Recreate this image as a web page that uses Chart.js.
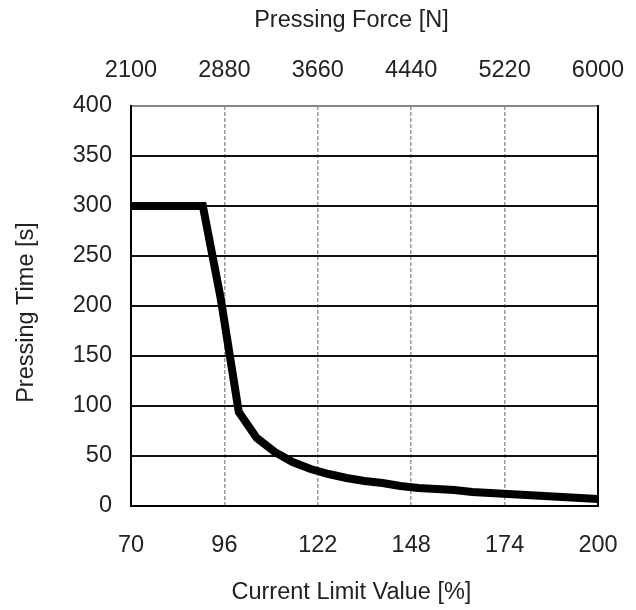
<!DOCTYPE html>
<html>
<head>
<meta charset="utf-8">
<script src="https://cdn.jsdelivr.net/npm/chart.js@4"></script>
<style>
  body { margin: 0; background: #fff; }
  canvas { display: block; }
</style>
</head>
<body>
<canvas id="chart" width="636" height="610"></canvas>
<script>
// current limit value [%] and pressing time [s]
let currentLimit = [70, 75, 80, 85, 90, 95, 100, 105, 110, 115, 120, 125, 130, 135, 140, 145, 150, 155, 160, 165, 170, 175, 180, 185, 190, 195, 200];
let pressingTime = [300, 300, 300, 300, 300, 207, 94, 68, 54, 44, 37, 32, 28, 25, 23, 20, 18, 17, 16, 14, 13, 12, 11, 10, 9, 8, 7];

let bottomTicks = [70, 96, 122, 148, 174, 200];
let topTicks = [2100, 2880, 3660, 4440, 5220, 6000];
let yTicks = [0, 50, 100, 150, 200, 250, 300, 350, 400];

let font = { family: "'Liberation Sans', Arial, sans-serif", size: 23.5 };
let textColor = "#222";
let nbsp = "\u00a0";

function setTicks(list) {
  return function (scale) {
    scale.ticks = list.map(function (v) { return { value: v }; });
  };
}

function plainNumber(v) { return String(v); }

// chart area is set by the boxes only, labels may hang over the edges
function fixHeight(h) {
  return function (scale) {
    scale.height = h;
    scale.paddingLeft = 0;
    scale.paddingRight = 0;
  };
}

let points = currentLimit.map(function (x, i) { return { x: x, y: pressingTime[i] }; });

let ctx = document.getElementById("chart").getContext("2d");

new Chart(ctx, {
  type: "line",
  data: {
    datasets: [
      {
        data: points,
        borderColor: "#000",
        borderWidth: 8,
        pointRadius: 0,
        tension: 0,
        fill: false,
        xAxisID: "x",
        yAxisID: "y",
      },
    ],
  },
  options: {
    responsive: false,
    animation: false,
    layout: { padding: 0 },
    plugins: {
      legend: { display: false },
      tooltip: { enabled: false },
    },
    scales: {
      x: {
        type: "linear",
        position: "bottom",
        min: 70,
        max: 200,
        afterBuildTicks: setTicks(bottomTicks),
        afterFit: fixHeight(104),
        ticks: { font: font, color: textColor, padding: 25, maxRotation: 0, callback: plainNumber },
        grid: {
          drawTicks: false,
          lineWidth: 1.5,
          color: function (c) {
            let v = c.tick && c.tick.value;
            return (v === 70 || v === 200) ? "rgba(0,0,0,0)" : "#999";
          },
        },
        border: { color: "#000", width: 2, dash: [4, 2] },
        title: {
          display: true,
          text: "Current Limit Value [%]" + nbsp.repeat(4),
          font: font,
          color: textColor,
          padding: { top: 0, bottom: 3 },
        },
      },
      x2: {
        type: "linear",
        position: "top",
        min: 2100,
        max: 6000,
        afterBuildTicks: setTicks(topTicks),
        afterFit: fixHeight(106),
        ticks: { font: font, color: textColor, padding: 21, maxRotation: 0, callback: plainNumber },
        grid: { drawOnChartArea: false, drawTicks: false },
        border: { color: "#888", width: 2 },
        title: {
          display: true,
          text: "Pressing Force [N]" + nbsp.repeat(4),
          font: font,
          color: textColor,
          padding: { top: 6, bottom: 0 },
        },
      },
      y: {
        type: "linear",
        position: "left",
        min: 0,
        max: 400,
        afterBuildTicks: setTicks(yTicks),
        afterFit: function (scale) { scale.width = 131; },
        ticks: { font: font, color: textColor, padding: 19 },
        grid: {
          drawTicks: false,
          lineWidth: 2,
          color: function (c) {
            let v = c.tick && c.tick.value;
            return (v === 0 || v === 400) ? "rgba(0,0,0,0)" : "#111";
          },
        },
        border: { color: "#000", width: 2 },
        title: {
          display: true,
          text: "Pressing Time [s]" + nbsp.repeat(2),
          font: font,
          color: textColor,
          padding: { top: 12, bottom: 0 },
        },
      },
      y2: {
        type: "linear",
        position: "right",
        min: 0,
        max: 400,
        afterFit: function (scale) { scale.width = 38; },
        ticks: { display: false },
        grid: { drawOnChartArea: false, drawTicks: false },
        border: { color: "#000", width: 2 },
      },
    },
  },
});
</script>
</body>
</html>
